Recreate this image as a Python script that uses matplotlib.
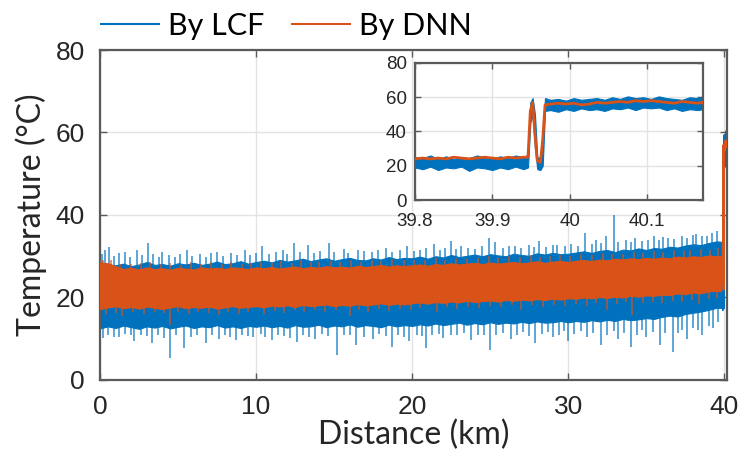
import matplotlib
matplotlib.use("Agg")
import matplotlib.pyplot as plt
from matplotlib.lines import Line2D

# ---------------- data ----------------
# Distance samples (km) for the band envelopes along the fibre
dist_km = [0.0, 0.5, 1.0, 1.5, 2.0, 2.5, 3.0, 3.5, 4.0, 4.5, 5.0, 5.5, 6.0, 6.5, 7.0, 7.5,
           8.0, 8.5, 9.0, 9.5, 10.0, 10.5, 11.0, 11.5, 12.0, 12.5, 13.0, 13.5, 14.0, 14.5,
           15.0, 15.5, 16.0, 16.5, 17.0, 17.5, 18.0, 18.5, 19.0, 19.5, 20.0, 20.5, 21.0,
           21.5, 22.0, 22.5, 23.0, 23.5, 24.0, 24.5, 25.0, 25.5, 26.0, 26.5, 27.0, 27.5,
           28.0, 28.5, 29.0, 29.5, 30.0, 30.5, 31.0, 31.5, 32.0, 32.5, 33.0, 33.5, 34.0,
           34.5, 35.0, 35.5, 36.0, 36.5, 37.0, 37.5, 38.0, 38.5, 39.0, 39.5, 39.8]

# LCF trace: dense lower / upper envelope (degC)
lcf_low = [12.5, 13.0, 12.6, 13.2, 12.8, 12.4, 13.0, 12.7, 13.1, 12.5, 12.9, 13.2, 12.6, 13.0,
           12.8, 13.3, 12.7, 13.0, 12.6, 13.1, 12.9,
           13.2, 12.8, 13.1, 12.7, 13.3, 12.9, 13.0, 13.4, 12.8, 13.2, 13.0, 13.5, 12.9, 13.3,
           13.1, 12.8, 13.4, 13.0, 13.3, 13.1,
           13.5, 13.2, 13.7, 13.3, 13.6, 13.9, 13.4, 13.8, 13.5, 14.0, 13.6, 13.9, 13.7, 14.1,
           13.8, 14.2, 13.9, 14.0, 14.3, 14.0,
           14.3, 14.1, 14.5, 14.2, 14.6, 14.3, 14.8, 14.5, 14.7, 15.0, 14.8, 15.3, 15.6, 15.4,
           16.0, 16.3, 16.6, 17.0, 17.5,
           17.5]
lcf_high = [28.5, 28.0, 27.8, 28.2, 27.6, 28.0, 28.6, 27.9, 28.1, 27.7, 28.3, 28.0, 28.4, 27.9,
            28.2, 28.7, 28.1, 28.3, 28.8, 28.2, 28.6,
            28.9, 28.5, 29.1, 28.7, 29.0, 29.4, 28.8, 29.2, 29.5, 28.9, 29.3, 29.6, 29.1, 29.0,
            29.5, 29.2, 29.8, 29.3, 29.6, 29.5,
            29.9, 29.4, 30.0, 29.7, 30.3, 29.8, 30.1, 30.4, 30.0, 30.5, 30.2, 30.0, 30.6, 30.3,
            30.1, 30.7, 30.4, 30.8, 30.5, 30.6,
            30.9, 31.2, 30.8, 31.3, 31.5, 31.0, 31.6, 31.4, 31.9, 31.5, 32.0, 31.8, 32.3, 32.1,
            32.6, 32.9, 32.7, 33.2, 33.6,
            33.5]

# DNN trace: dense lower / upper envelope (degC)
dnn_low = [17.2, 17.6, 17.9, 17.4, 17.7, 17.3, 17.8, 17.5, 17.2, 17.6, 17.9, 17.4, 17.7, 17.5,
           17.8, 17.3, 17.6, 17.9, 17.5, 17.7, 17.9,
           17.6, 18.0, 17.8, 18.1, 17.7, 18.2, 17.9, 18.1, 18.3, 17.9, 18.2, 18.0, 18.4, 18.1,
           18.3, 18.6, 18.2, 18.5, 18.3, 18.6,
           18.8, 18.5, 18.9, 18.7, 19.0, 18.8, 19.2, 18.9, 19.1, 19.3, 19.0, 19.4, 19.2, 19.5,
           19.3, 19.6, 19.4, 19.7, 19.5, 19.8,
           19.7, 20.0, 19.8, 20.1, 19.9, 20.2, 20.0, 20.4, 20.2, 20.5, 20.4, 20.7, 20.6, 21.0,
           20.8, 21.2, 21.0, 21.5, 21.6,
           21.5]
dnn_high = [28.5, 28.3, 27.6, 26.9, 27.2, 26.8, 27.3, 26.9, 27.1, 26.7, 27.2, 27.0, 26.8, 27.3,
            27.0, 27.2, 26.9, 27.3, 27.1, 26.9, 27.3,
            27.1, 27.4, 27.0, 27.3, 27.5, 27.1, 27.4, 27.2, 27.6, 27.3, 27.5, 27.2, 27.7, 27.4,
            27.6, 27.9, 27.5, 27.8, 27.6, 27.8,
            28.0, 27.7, 28.1, 27.9, 28.3, 28.0, 28.2, 28.4, 28.1, 28.5, 28.2, 28.4, 28.6, 28.3,
            28.5, 28.8, 28.4, 28.7, 28.9, 28.6,
            28.9, 29.1, 28.8, 29.2, 29.0, 29.4, 29.2, 29.5, 29.3, 29.6, 29.4, 29.7, 29.5, 29.9,
            29.7, 30.0, 29.8, 30.2, 30.0,
            30.0]

# Excursions of the LCF trace beyond its dense band: (km, degC)
lcf_peak_km = [0.1, 0.3, 0.6, 0.9, 1.2, 1.6, 1.9, 2.4, 2.7, 3.1, 3.4, 3.8, 4.0, 4.4, 4.8, 5.1,
               5.6, 5.9, 6.4, 6.8, 7.1, 7.5, 7.9, 8.4, 8.8, 9.3, 9.6, 10.0, 10.4, 10.8, 11.3,
               11.7, 12.0, 12.4, 12.8, 13.3, 13.7, 14.1, 14.7, 15.0, 15.6, 15.9, 16.5, 16.9,
               17.4, 17.8, 18.3, 18.7, 19.2, 19.7, 20.1, 20.5, 20.9, 21.4, 21.8, 22.1, 22.5,
               22.8, 23.1, 23.6, 24.0, 24.5, 24.9, 25.3, 25.8, 26.2, 26.6, 27.0, 27.5, 27.8,
               28.1, 28.6, 29.0, 29.3, 29.8, 30.2, 30.6, 31.1, 31.5, 31.8, 32.1, 32.4, 32.9,
               33.2, 33.7, 34.0, 34.3, 34.7, 35.1, 35.5, 35.8, 36.1, 36.4, 36.8, 37.3, 37.6,
               38.0, 38.2, 38.6, 38.9, 39.2, 39.5]
lcf_peak_val = [30.5, 31.5, 32.2, 30.0, 30.8, 31.0, 29.8, 31.5, 30.2, 33.2, 30.5, 29.9, 31.0,
                30.2, 29.8, 30.6, 31.5, 30.0, 30.5, 29.9, 30.8, 31.0, 30.1, 30.8, 30.2, 31.5,
                30.4, 30.9, 32.5, 30.6, 31.0, 31.5, 30.5, 33.2, 31.0, 32.8, 30.9, 31.3, 33.2,
                31.0, 31.8, 30.8, 31.5, 31.2, 31.0, 31.6, 32.0, 31.0, 31.5, 32.5, 31.3, 31.5,
                32.0, 33.0, 31.6, 32.0, 33.6, 31.8, 32.5, 32.0, 31.8, 32.6, 34.4, 33.5, 32.0,
                32.4, 32.5, 31.9, 32.8, 32.3, 33.6, 32.2, 32.8, 32.8, 32.4, 33.0, 32.6, 35.6,
                33.0, 34.0, 33.2, 35.0, 40.0, 33.5, 34.0, 33.4, 34.5, 33.6, 34.0, 35.0, 34.0,
                34.6, 34.5, 34.2, 35.0, 34.5, 35.2, 35.5, 35.0, 35.0, 35.6, 36.0]
lcf_dip_km = [0.2, 0.5, 0.9, 1.2, 1.6, 2.0, 2.2, 2.6, 3.0, 3.3, 3.7, 4.1, 4.5, 4.9, 5.4, 5.8,
              6.2, 6.8, 7.2, 7.6, 8.0, 8.3, 8.7, 9.1, 9.5, 9.8, 10.3, 10.6, 11.0, 11.4, 11.8,
              12.2, 12.6, 13.0, 13.4, 13.8, 14.2, 14.6, 15.2, 15.6, 16.0, 16.4, 16.9, 17.5,
              17.9, 18.3, 18.7, 19.1, 19.5, 19.8, 20.3, 20.6, 20.9, 21.3, 21.7, 22.0, 22.5,
              22.9, 23.3, 23.8, 24.2, 24.6, 25.0, 25.4, 25.8, 26.3, 26.7, 27.1, 27.5, 27.9,
              28.3, 28.7, 29.0, 29.4, 29.7, 30.0, 30.4, 30.8, 31.2, 31.6, 32.1, 32.5, 32.9,
              33.2, 33.6, 34.0, 34.4, 34.7, 35.0, 35.4, 35.9, 36.2, 36.7, 37.0, 37.3, 37.6,
              38.0, 38.3, 38.6, 39.0, 39.3, 39.6]
lcf_dip_val = [10.2, 11.0, 10.5, 10.5, 11.2, 10.8, 9.5, 11.0, 10.6, 9.0, 11.0, 10.2, 5.3,
               10.8, 7.8, 10.5, 11.0, 9.0, 10.8, 10.0, 11.0, 10.4, 9.7, 11.0, 10.6, 10.5,
               11.2, 10.4, 9.8, 11.0, 10.6, 10.2, 9.2, 11.0, 10.5, 10.0, 11.2, 10.6, 6.0,
               10.8, 11.0, 8.5, 10.5, 10.0, 11.2, 10.6, 8.0, 11.0, 10.4, 9.5, 11.0, 10.6,
               7.8, 10.8, 11.2, 10.2, 11.0, 10.8, 11.4, 9.7, 11.0, 10.8, 7.3, 11.0, 11.4,
               10.0, 11.0, 11.6, 10.6, 9.0, 11.2, 11.6, 10.5, 11.0, 11.8, 9.5, 11.2, 11.8,
               10.5, 11.4, 8.5, 11.0, 11.8, 10.0, 11.5, 8.0, 11.0, 12.0, 10.5, 11.6, 8.5,
               11.5, 6.8, 11.5, 12.0, 10.0, 12.5, 12.0, 11.0, 13.0, 12.5, 14.0]

# Excursions of the DNN trace beyond its dense band: (km, degC)
dnn_peak_km = [0.2, 0.7, 1.3, 2.0, 2.6, 3.2, 3.9, 4.5, 5.2, 5.8, 6.5, 7.1, 7.8, 8.4, 9.1, 9.7,
               10.3, 11.0, 11.6, 12.3, 12.9, 13.5, 14.0, 14.8, 15.4, 16.1, 16.7, 17.4, 18.0,
               18.7, 19.5, 20.1, 20.8, 21.5, 22.1, 22.8, 23.5, 24.2, 24.9, 25.5, 26.2, 26.9,
               27.6, 28.2, 28.8, 29.5, 30.1, 30.8, 31.5, 32.2, 32.8, 33.5, 34.2, 34.8, 35.5,
               36.1, 36.8, 37.4, 37.8, 38.5, 39.1, 39.6]
dnn_peak_val = [29.0, 29.2, 28.2, 28.0, 28.3, 28.6, 28.0, 28.4, 27.9, 28.6, 28.0, 28.5, 28.1,
                28.6, 28.0, 28.4, 28.7, 28.3, 28.8, 28.4, 29.0, 28.5, 28.5, 28.8, 28.6, 29.2,
                28.7, 29.0, 28.8, 29.3, 29.0, 29.2, 29.0, 29.5, 29.2, 29.6, 29.3, 29.5, 30.0,
                29.6, 30.0, 29.7, 30.2, 29.8, 30.0, 30.3, 30.0, 30.6, 30.3, 30.8, 30.5, 30.5,
                31.0, 30.8, 31.2, 31.0, 31.5, 31.2, 31.5, 31.8, 31.6, 32.0]
dnn_dip_km = [0.4, 1.0, 1.4, 2.1, 2.8, 3.5, 4.1, 4.5, 5.0, 5.7, 6.3, 7.0, 7.6, 8.2, 8.9, 9.5,
              10.5, 11.2, 11.8, 12.5, 13.1, 13.8, 14.4, 15.1, 16.0, 16.6, 17.2, 17.9, 18.5,
              19.2, 19.9, 20.5, 21.6, 22.2, 22.9, 23.6, 24.3, 25.0, 25.7, 26.4, 27.0, 27.7,
              28.4, 29.1, 29.8, 30.5, 31.2, 31.8, 32.5, 33.1, 33.7, 34.1, 34.8, 35.4, 36.0,
              36.7, 37.3, 37.9, 38.4, 39.0, 39.5]
dnn_dip_val = [16.0, 16.3, 15.5, 16.4, 16.0, 16.5, 16.2, 13.3, 16.4, 16.0, 16.6, 16.2, 15.8,
               16.5, 16.1, 16.6, 16.0, 16.8, 16.3, 16.9, 16.5, 17.0, 16.4, 16.9, 15.5, 17.0,
               16.6, 17.2, 16.8, 17.3, 16.9, 17.5, 16.5, 17.6, 17.2, 17.8, 17.4, 18.0, 17.6,
               18.1, 17.0, 18.2, 17.8, 18.3, 17.9, 18.5, 18.0, 18.6, 17.0, 18.4, 18.8, 15.8,
               18.6, 19.0, 18.6, 19.2, 18.8, 19.4, 18.5, 19.6, 19.8]

# Close-up of the fibre end (hot section)
end_km = [39.800, 39.810, 39.820, 39.830, 39.840, 39.850, 39.860, 39.870, 39.880, 39.890,
          39.900, 39.910, 39.920, 39.930, 39.940, 39.946, 39.949, 39.952, 39.955, 39.958,
          39.962, 39.965, 39.968, 39.975, 39.985, 39.995, 40.005, 40.015, 40.025, 40.035,
          40.045, 40.055, 40.065, 40.075, 40.085, 40.095, 40.105, 40.115, 40.125, 40.135,
          40.145, 40.155, 40.165, 40.172]
end_lcf_low = [19.0, 18.0, 19.5, 17.5, 19.0, 18.5, 19.5, 17.0, 19.0, 18.5, 17.5, 19.0, 18.0,
               19.5, 18.0, 19.0, 45.0, 50.0, 30.0, 18.0, 17.5, 20.0, 52.0, 52.5, 51.5, 53.0,
               52.0, 53.5, 52.5, 53.0, 52.0, 53.5, 53.0, 54.0, 52.5, 54.0, 53.5, 54.0, 52.5,
               53.5, 52.0, 53.0, 52.5, 53.0]
end_lcf_high = [25.0, 24.5, 26.0, 24.0, 25.5, 24.0, 25.0, 24.5, 26.0, 25.0, 24.0, 25.5, 24.5,
                26.0, 25.0, 26.5, 57.0, 59.5, 50.0, 25.0, 24.5, 40.0, 59.5, 58.5, 59.0, 58.0,
                59.5, 58.5, 59.0, 59.5, 58.5, 60.0, 59.0, 60.5, 59.5, 60.0, 59.0, 60.5, 59.5,
                59.0, 58.5, 60.0, 59.5, 60.5]
end_dnn = [24.0, 24.5, 24.0, 24.5, 24.0, 25.0, 24.5, 24.0, 24.5, 25.0, 24.5, 24.0, 25.0, 24.5,
           25.0, 25.0, 52.0, 57.0, 38.0, 23.0, 22.0, 35.0, 55.5, 56.0, 56.5, 56.0, 56.5, 55.5,
           56.0, 57.0, 56.5, 57.0, 57.5, 57.0, 58.0, 57.5, 58.0, 57.5, 57.0, 56.5, 57.5, 57.0,
           56.5, 57.0]

x_ticks = [0, 10, 20, 30, 40]
y_ticks = [0, 20, 40, 60, 80]
inset_x_ticks = [39.8, 39.9, 40.0, 40.1]
inset_x_labels = ["39.8", "39.9", "40", "40.1"]
series_names = ["By LCF", "By DNN"]

# ---------------- style ----------------
BLUE = "#0072BD"
ORANGE = "#D95319"
SPINE = "#5a5a5a"
TXT = "#262626"
LABEL_FONT = ["Lato", "DejaVu Sans"]
TICK_FONT = ["Liberation Sans", "DejaVu Sans"]

fig = plt.figure(figsize=(7.42, 4.63), dpi=100)
ax = fig.add_axes([0.1348, 0.1793, 0.845, 0.7127])


def style_axes(a, fontsize, pad):
    for s in a.spines.values():
        s.set_color(SPINE)
        s.set_linewidth(1.6)
    a.tick_params(direction="in", top=True, right=True, length=5, width=1.0,
                  color=SPINE, labelcolor=TXT, labelsize=fontsize, pad=pad)
    for lab in a.get_xticklabels() + a.get_yticklabels():
        lab.set_fontfamily(TICK_FONT)
    a.grid(True, color="#e3e3e3", linewidth=1.0)
    a.set_axisbelow(True)


def draw_trace(a, lo, hi, peak_km, peak_val, dip_km, dip_val, color, base, z):
    a.fill_between(dist_km, lo, hi, color=color, edgecolor=color, linewidth=0.8, zorder=z)
    a.vlines(peak_km, base, peak_val, color=color, linewidth=1.1, alpha=0.8, zorder=z)
    a.vlines(dip_km, base, dip_val, color=color, linewidth=1.1, alpha=0.8, zorder=z)


draw_trace(ax, lcf_low, lcf_high, lcf_peak_km, lcf_peak_val, lcf_dip_km, lcf_dip_val,
           BLUE, 22, 2)
draw_trace(ax, dnn_low, dnn_high, dnn_peak_km, dnn_peak_val, dnn_dip_km, dnn_dip_val,
           ORANGE, 23, 3)

# Hot section at the fibre end
ax.fill_between(end_km, end_lcf_low, end_lcf_high, color=BLUE, linewidth=1.0,
                edgecolor=BLUE, zorder=2)
ax.plot(end_km, end_dnn, color=ORANGE, linewidth=1.6, zorder=3)

ax.set_xlim(0, 40.172)
ax.set_ylim(0, 80)
ax.set_xticks(x_ticks)
ax.set_yticks(y_ticks)
style_axes(ax, 19, 11)
ax.set_xlabel("Distance (km)", fontsize=23, family=LABEL_FONT, color=TXT, labelpad=0)
ax.set_ylabel("Temperature (°C)", fontsize=23, family=LABEL_FONT, color=TXT, labelpad=6)

handles = [Line2D([0], [0], color=BLUE, linewidth=1.5),
           Line2D([0], [0], color=ORANGE, linewidth=1.5)]
ax.legend(handles, series_names, loc="lower left", bbox_to_anchor=(0.002, 1.03),
          ncol=2, frameon=False, handlelength=1.9, handletextpad=0.3,
          columnspacing=0.9, borderaxespad=0.0, borderpad=0.0,
          prop={"family": LABEL_FONT, "size": 22})

# Inset close-up
axin = fig.add_axes([0.5593, 0.568, 0.388, 0.296])
axin.set_facecolor("white")
axin.fill_between(end_km, end_lcf_low, end_lcf_high, color=BLUE, linewidth=0.8,
                  edgecolor=BLUE, zorder=2)
axin.plot(end_km, end_dnn, color=ORANGE, linewidth=2.0, zorder=3)
axin.set_xlim(39.8, 40.172)
axin.set_ylim(0, 80)
axin.set_xticks(inset_x_ticks)
axin.set_xticklabels(inset_x_labels)
axin.set_yticks(y_ticks)
style_axes(axin, 13.5, 6)
axin.tick_params(axis="x", pad=9)
axin.tick_params(length=4)

fig.savefig("out.png", dpi=100)
